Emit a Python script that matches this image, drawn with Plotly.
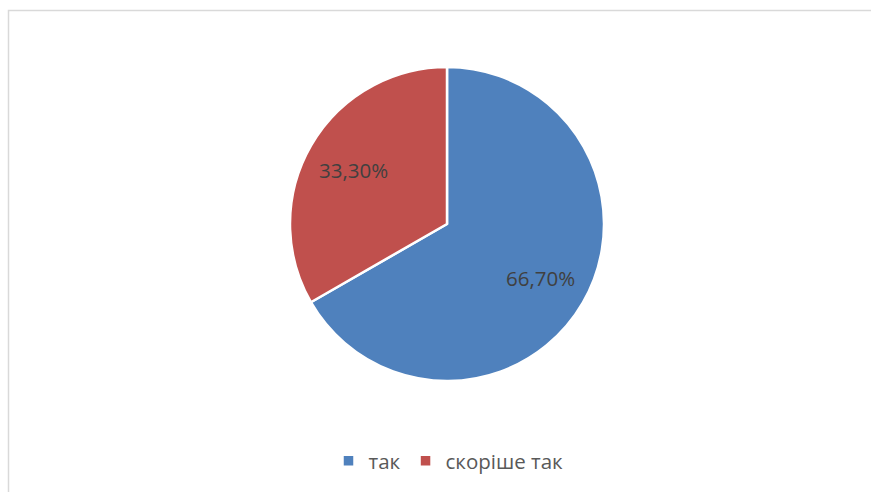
import math
import plotly.graph_objects as go

labels = ["так", "скоріше так"]
values = [66.7, 33.3]
text_labels = ["66,70%", "33,30%"]
colors = ["#4F81BD", "#C0504D"]

W, H = 871, 492
cx, cy, r = 447, 224, 157
label_r = 0.69

fig = go.Figure(go.Pie(
    labels=labels,
    values=values,
    text=text_labels,
    textinfo="none",
    sort=False,
    direction="clockwise",
    rotation=0,
    marker=dict(colors=colors, line=dict(color="white", width=2.5)),
    domain=dict(x=[(cx - r) / W, (cx + r) / W], y=[1 - (cy + r) / H, 1 - (cy - r) / H]),
    hoverinfo="label+text",
))

# data labels placed at each slice's mid-angle
annotations = []
total = sum(values)
start = 90.0
for v, t in zip(values, text_labels):
    span = 360.0 * v / total
    mid = math.radians(start - span / 2)
    start -= span
    px = cx + label_r * r * math.cos(mid)
    py = cy - label_r * r * math.sin(mid)
    annotations.append(dict(
        x=px / W, y=1 - py / H, xref="paper", yref="paper",
        text=t, showarrow=False,
        font=dict(family="Open Sans", size=20.5, color="#404040"),
        xanchor="center", yanchor="middle",
    ))

fig.update_layout(
    width=W, height=H,
    margin=dict(l=0, r=0, t=0, b=0),
    paper_bgcolor="white",
    plot_bgcolor="white",
    showlegend=True,
    legend=dict(
        orientation="h",
        x=0.5 + 13 / W, xanchor="center",
        y=1 - 461 / H, yanchor="middle",
        font=dict(family="Open Sans", size=20.5, color="#595959"),
        itemwidth=30,
    ),
    annotations=annotations,
    shapes=[dict(
        type="rect", xref="paper", yref="paper",
        x0=8.5 / W, x1=1.02, y0=-0.02, y1=1 - 10.5 / H,
        line=dict(color="#D9D9D9", width=1.5),
        fillcolor="rgba(0,0,0,0)",
        layer="below",
    )],
)

fig.write_html("out.html", config={"displayModeBar": False},
               post_script="document.body.style.margin='0';")
